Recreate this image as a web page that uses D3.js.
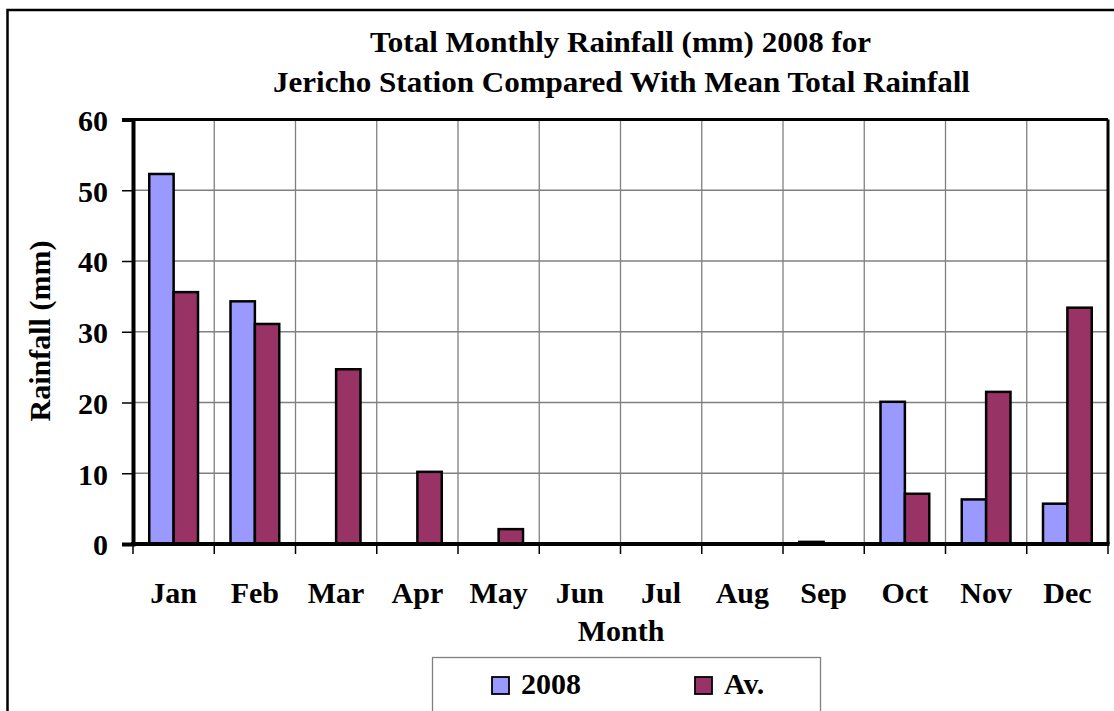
<!DOCTYPE html>
<html><head><meta charset="utf-8">
<script src="https://cdn.jsdelivr.net/npm/d3@7"></script>
<style>body{margin:0;background:#fff;} svg{display:block;}</style>
</head><body><svg id="c" width="1114" height="711"></svg>
<script>
const months = ["Jan","Feb","Mar","Apr","May","Jun","Jul","Aug","Sep","Oct","Nov","Dec"];
const seriesNames = ["2008","Av."];
const values2008 = [52.3,34.3,0,0,0,0,0,0,0.3,20.1,6.3,5.7];
const valuesAv = [35.6,31.1,24.7,10.2,2.1,0,0,0,0,7.1,21.5,33.4];
const yTicks = [0,10,20,30,40,50,60];
const colors = ["#9999FF","#993366"];
const FONT = "'Liberation Serif','Times New Roman',serif";

const svg = d3.select("#c");
const L=133, R=1108, T=119.5, B=544;
function txt(sel){ return sel.style("font-family",FONT).style("font-weight","bold").attr("fill","#000"); }

// outer border
svg.append("rect").attr("x",7.5).attr("y",10).attr("width",1120).attr("height",720)
  .attr("fill","none").attr("stroke","#000").attr("stroke-width",2.5);

const x = d3.scaleBand().domain(months).range([L,R]).paddingInner(0).paddingOuter(0);
const y = d3.scaleLinear().domain([0,60]).range([B,T]);
const xs = d3.scaleBand().domain(seriesNames).range([0,x.bandwidth()]).paddingInner(0).paddingOuter(0.667);

// gridlines
const g = svg.append("g");
g.selectAll(".hg").data(yTicks.slice(1,-1)).join("line")
  .attr("x1",L).attr("x2",R).attr("y1",d=>y(d)).attr("y2",d=>y(d))
  .attr("stroke","#808080").attr("stroke-width",1.3);
g.selectAll(".vg").data(months.slice(1)).join("line")
  .attr("x1",d=>x(d)).attr("x2",d=>x(d)).attr("y1",T).attr("y2",B)
  .attr("stroke","#808080").attr("stroke-width",1.3);

// bars
const data = months.map((m,i)=>({m, vals:[values2008[i],valuesAv[i]]}));
const grp = svg.append("g").selectAll("g").data(data).join("g").attr("transform",d=>`translate(${x(d.m)},0)`);
grp.selectAll("rect").data(d=>d.vals.map((v,j)=>({v,j}))).join("rect")
  .filter(d=>d.v>0)
  .attr("x",d=>xs(seriesNames[d.j])).attr("width",xs.bandwidth())
  .attr("y",d=>y(d.v)).attr("height",d=>B-y(d.v))
  .attr("fill",d=>colors[d.j]).attr("stroke","#000").attr("stroke-width",2.5);

// plot border top/right
svg.append("line").attr("x1",L).attr("x2",R).attr("y1",T).attr("y2",T).attr("stroke","#000").attr("stroke-width",3);
svg.append("line").attr("x1",R).attr("x2",R).attr("y1",T).attr("y2",B).attr("stroke","#000").attr("stroke-width",3);

// y axis
const yAxis = svg.append("g").attr("transform",`translate(${L},0)`)
  .call(d3.axisLeft(y).tickValues(yTicks).tickSize(11).tickPadding(14));
yAxis.select(".domain").attr("stroke","#000").attr("stroke-width",4);
yAxis.selectAll(".tick line").attr("stroke","#000").attr("stroke-width",1.5);
txt(yAxis.selectAll(".tick text")).style("font-size","30px").attr("dy","0.36em");

// x axis
const xb = d3.scaleLinear().domain([0,12]).range([L,R]);
const xAxis = svg.append("g").attr("transform",`translate(0,${B})`);
xAxis.append("line").attr("x1",L-2).attr("x2",R+1.5).attr("y1",0).attr("y2",0).attr("stroke","#000").attr("stroke-width",4);
xAxis.selectAll(".xt").data(d3.range(13)).join("line")
  .attr("x1",d=>xb(d)).attr("x2",d=>xb(d)).attr("y1",0).attr("y2",10).attr("stroke","#000").attr("stroke-width",1.5);
txt(xAxis.selectAll(".xl").data(months).join("text"))
  .attr("x",d=>x(d)+x.bandwidth()/2).attr("y",59).attr("text-anchor","middle")
  .style("font-size","30px").text(d=>d);

// titles
txt(svg.append("text")).attr("x",620.5).attr("y",52).attr("text-anchor","middle").style("font-size","30px")
  .attr("textLength",501).attr("lengthAdjust","spacingAndGlyphs")
  .text("Total Monthly Rainfall (mm) 2008 for");
txt(svg.append("text")).attr("x",621.5).attr("y",92).attr("text-anchor","middle").style("font-size","30px")
  .attr("textLength",697).attr("lengthAdjust","spacingAndGlyphs")
  .text("Jericho Station Compared With Mean Total Rainfall");
txt(svg.append("text")).attr("x",621).attr("y",641).attr("text-anchor","middle").style("font-size","30px").text("Month");
txt(svg.append("text")).attr("transform","translate(50,331) rotate(-90)").attr("text-anchor","middle").style("font-size","30px").text("Rainfall (mm)");

// legend
const lg = svg.append("g");
lg.append("rect").attr("x",432.5).attr("y",657.5).attr("width",388).attr("height",80).attr("fill","#fff").attr("stroke","#808080").attr("stroke-width",1.3);
const lx = [492,695];
seriesNames.forEach((s,i)=>{
  lg.append("rect").attr("x",lx[i]).attr("y",677).attr("width",17).attr("height",17).attr("fill",colors[i]).attr("stroke","#000").attr("stroke-width",1.8);
  txt(lg.append("text")).attr("x",lx[i]+29).attr("y",694).style("font-size","30px").text(s);
});
</script></body></html>
